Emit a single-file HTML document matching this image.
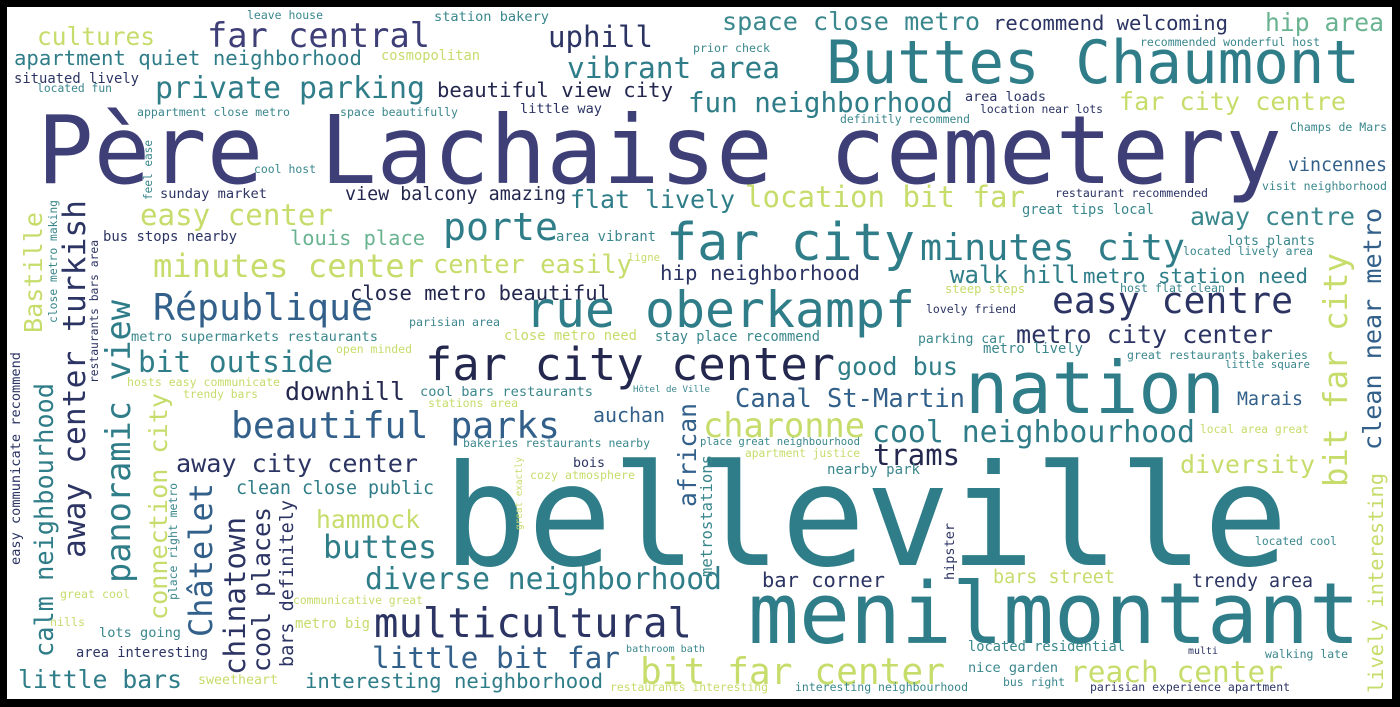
<!DOCTYPE html>
<html><head><meta charset="utf-8">
<style>
html,body{margin:0;padding:0;background:#000;width:1400px;height:707px;overflow:hidden}
svg{display:block}
text{font-family:"DejaVu Sans Mono","Liberation Mono",monospace}
</style></head>
<body>
<svg id="cloud" width="1400" height="707" viewBox="0 0 1400 707">
<rect x="0" y="0" width="1400" height="707" fill="#000"/>
<rect x="7" y="7" width="1385" height="692" fill="#fff"/>
</svg>
<script>
const N='#2c3463',P='#3f3f78',T='#2f7d88',T2='#3a878d',TB='#32608a',Y='#c6dc6b',G='#6ab391',D='#24284f';
// horizontal words: text, left, right, baseline, color
const words=[
["leave house",247,323,19,T2],["station bakery",434,549,21,T2],
["space close metro",722,980,30,T2],["recommend welcoming",993,1228,30,N],["hip area",1265,1384,31,G],
["cultures",37,155,45,Y],["far central",207,430,47,P],["uphill",548,653,47,N],
["prior check",693,770,52,T2],["recommended wonderful host",1140,1320,46,T2],
["Buttes Chaumont",826,1360,83,T],["apartment quiet neighborhood",14,362,65,T],["cosmopolitan",381,480,60,Y],
["vibrant area",567,780,78,T],["situated lively",14,139,83,N],["located fun",37,112,92,T2],
["private parking",155,425,98,T],["beautiful view city",437,673,97,D],["fun neighborhood",688,953,112,T],
["area loads",965,1046,101,N],["far city centre",1119,1346,110,Y],["location near lots",980,1103,113,N],
["appartment close metro",137,290,116,T2],["space beautifully",340,458,116,T2],["little way",520,602,113,N],
["definitly recommend",840,970,123,T2],["Champs de Mars",1290,1387,131,T2],
["Père Lachaise cemetery",37,1282,183,P],["cool host",254,316,173,T2],["sunday market",160,267,198,N],
["view balcony amazing",345,566,200,D],["flat lively",570,735,208,T],["location bit far",745,1025,207,Y],
["vincennes",1288,1387,171,TB],["restaurant recommended",1055,1208,197,N],["visit neighborhood",1262,1387,190,T2],
["great tips local",1022,1154,214,T2],["easy center",140,333,225,Y],["porte",443,558,240,T],
["far city",666,915,260,T],["minutes city",920,1185,260,T],["away centre",1190,1355,225,T2],
["area vibrant",556,656,241,T2],["bus stops nearby",103,237,241,N],["louis place",290,425,245,G],
["lots plants",1227,1315,245,T2],["located lively area",1183,1313,255,T2],
["minutes center",153,424,277,Y],["center easily",433,632,273,Y],["hip neighborhood",660,860,280,N],
["walk hill",950,1080,283,T],["metro station need",1083,1308,283,T],["ligne",628,660,261,Y],
["host flat clean",1120,1225,292,T2],["steep steps",945,1025,293,Y],["close metro beautiful",350,610,300,D],
["République",153,373,320,TB],["rue oberkampf",525,915,327,T],["easy centre",1052,1293,313,N],
["lovely friend",926,1016,313,N],["parisian area",409,500,326,T2],["close metro need",504,637,340,Y],
["stay place recommend",655,820,341,T2],["metro supermarkets restaurants",131,378,341,T2],
["metro city center",1016,1273,343,N],["parking car",918,1005,343,T2],["metro lively",983,1083,353,T2],
["open minded",336,412,353,Y],["bit outside",138,333,372,T],["far city center",425,835,380,D],
["good bus",837,958,375,T],["great restaurants bakeries",1127,1308,359,T2],["little square",1225,1310,368,T2],
["nation",965,1225,413,T],["hosts easy communicate",127,280,386,Y],["trendy bars",183,258,398,Y],
["downhill",285,405,400,D],["cool bars restaurants",420,593,396,T2],["Hôtel de Ville",633,710,392,T2],
["stations area",428,518,407,Y],["Canal St-Martin",735,965,407,TB],["Marais",1237,1303,405,TB],
["beautiful parks",231,560,438,TB],["auchan",593,665,422,TB],["charonne",703,865,437,Y],
["cool neighbourhood",872,1195,442,T],["local area great",1200,1309,433,Y],
["bakeries restaurants nearby",463,650,447,T2],["place great neighbourhood",700,860,445,T2],
["bois",573,605,467,N],["cozy atmosphere",530,635,479,Y],["away city center",176,418,472,N],
["trams",873,960,465,D],["apartment justice",745,860,457,Y],["diversity",1180,1315,473,Y],
["nearby park",827,920,474,T2],["clean close public",236,434,494,T],
["belleville",443,1288,565,T],["hammock",316,420,528,Y],["buttes",323,437,558,T],
["diverse neighborhood",365,722,589,T],["bar corner",762,885,587,N],["bars street",993,1115,583,Y],
["trendy area",1192,1313,587,N],["located cool",1255,1337,545,T2],
["menilmontant",748,1360,643,T],["multicultural",374,692,637,N],["communicative great",293,423,604,Y],
["great cool",60,130,598,Y],["hills",50,85,626,Y],["lots going",99,181,637,T2],["metro big",295,370,628,Y],
["area interesting",76,208,657,N],["little bit far",372,620,668,TB],["bit far center",640,945,684,Y],
["reach center",1070,1283,682,Y],["little bars",18,182,688,T],["sweetheart",198,278,684,Y],
["interesting neighborhood",305,603,688,T],["bathroom bath",626,705,652,T2],["located residential",968,1125,651,T2],
["nice garden",968,1058,672,T2],["multi",1188,1218,654,N],["walking late",1265,1348,658,T2],
["restaurants interesting",610,768,691,Y],["interesting neighbourhood",795,968,691,T2],["bus right",1003,1065,686,T2],
["parisian experience apartment",1090,1290,691,N]
];
// vertical words (read bottom to top): text, baseline x, bottom y, top y, color
const vwords=[
["Bastille",42,333,212,Y],["easy communicate recommend",20,565,352,N],["close metro making",57,323,200,T2],
["away center turkish",85,558,200,N],["calm neighbourhood",53,657,383,T],["restaurants bars area",98,383,240,N],
["feel ease",152,200,140,T2],["panoramic view",130,583,300,T],["connection city",167,620,393,Y],
["place right metro",177,600,483,T2],["Châtelet",212,637,483,TB],["chinatown",245,675,517,N],
["cool places",270,672,507,N],["bars definitely",293,667,500,N],["great exactly",522,530,457,Y],
["african",696,507,403,TB],["metrostations",712,577,455,T2],["hipster",954,580,523,N],
["bit far city",1347,487,253,Y],["clean near metro",1381,450,208,TB],["lively interesting",1383,693,473,Y]
];
const svg=document.getElementById('cloud');
const NS='http://www.w3.org/2000/svg';
function slug(s){return s.normalize('NFD').replace(/[\u0300-\u036f]/g,'').toLowerCase().replace(/[^a-z0-9]+/g,'-').replace(/^-|-$/g,'');}
words.forEach(w=>{
  const len=w[2]-w[1];
  const t=document.createElementNS(NS,'text');
  t.setAttribute('x',w[1]);t.setAttribute('y',w[3]);
  t.setAttribute('font-size',(len/(w[0].length*0.6)).toFixed(1));t.setAttribute('fill',w[4]);
  t.setAttribute('textLength',len);t.setAttribute('lengthAdjust','spacingAndGlyphs');
  t.textContent=w[0];
  
  
  svg.appendChild(t);
});
vwords.forEach(w=>{
  const len=w[2]-w[3];
  const t=document.createElementNS(NS,'text');
  t.setAttribute('transform','translate('+w[1]+','+w[2]+') rotate(-90)');
  t.setAttribute('x',0);t.setAttribute('y',0);
  t.setAttribute('font-size',(len/(w[0].length*0.6)).toFixed(1));t.setAttribute('fill',w[4]);
  t.setAttribute('textLength',len);t.setAttribute('lengthAdjust','spacingAndGlyphs');
  t.textContent=w[0];
  
  
  svg.appendChild(t);
});
</script>
</body></html>
